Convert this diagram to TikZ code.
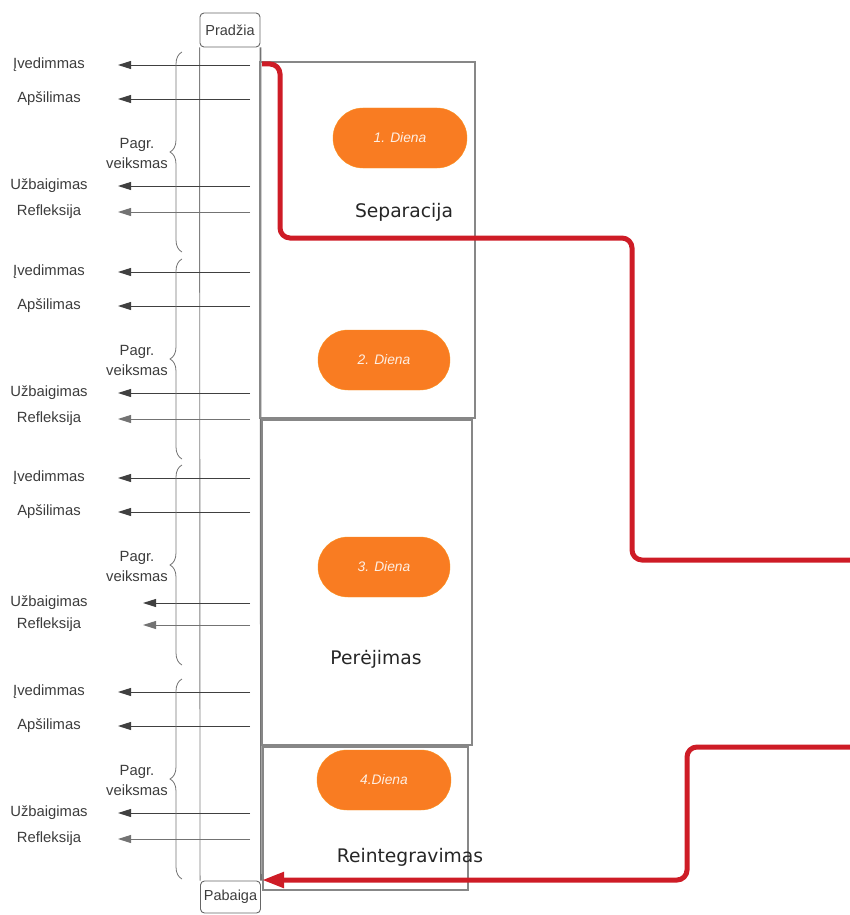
\documentclass[tikz,border=0pt]{standalone}
\usepackage{fontspec}
\setmainfont{Liberation Sans}
\newfontfamily\phasefont{DejaVu Sans}
\usetikzlibrary{decorations.pathreplacing,arrows.meta}
\definecolor{pillorange}{RGB}{249,124,34}
\definecolor{redline}{RGB}{206,28,38}
\definecolor{txt}{RGB}{60,60,60}
\definecolor{frame}{RGB}{135,135,135}
\begin{document}
\begin{tikzpicture}[x=1pt,y=-1pt,
  lbl/.style={font=\fontsize{14.8}{20}\selectfont, text=txt, inner sep=0pt},
  act/.style={draw=black!75, line width=0.9pt, -{Triangle[length=13pt,width=8pt]}},
  pill/.style={fill=pillorange, draw=pillorange!85!yellow, rounded corners=30pt, minimum width=134pt, minimum height=60pt, text=white!88!pillorange, font=\fontsize{13.8}{15}\selectfont\itshape},
  phase/.style={draw=frame, line width=1.2pt, minimum width=#1, inner sep=0pt},
  phasetxt/.style={font=\phasefont\fontsize{18.7}{22}\selectfont, text=black!85},
  brc/.style={draw=black!55, line width=0.8pt, decorate, decoration={brace, amplitude=12pt}},
  endbox/.style={draw=black!60, line width=0.9pt, rounded corners=4pt, minimum width=60pt, font=\fontsize{14.5}{16}\selectfont, text=txt, inner sep=0pt},
  redpath/.style={draw=redline, line width=5pt, rounded corners=10pt}
]
\useasboundingbox (0,0) rectangle (849,915);

% column head and foot
\node[endbox, minimum height=34pt] (pr) at (230,30) {Pradžia};
\node[endbox, minimum height=32pt] (pb) at (230.5,897) {Pabaiga};
\draw[draw=black!50, line width=0.9pt] (pr.south west) -- (pb.north west);
\draw[draw=black!55, line width=1.6pt] (pr.south east) -- (pb.north east);

% phase boxes
\node[phase=215pt, minimum height=356pt] (ph1) at (367.5,240) {};
\node[phase=210pt, minimum height=325pt] (ph2) at (367,582.5) {};
\node[phase=205pt, minimum height=143pt] (ph3) at (365.5,818.5) {};

% day pills
\node[pill] (d1) at (400,138) {1. Diena};
\node[pill, minimum width=132pt] (d2) at (384,360) {2. Diena};
\node[pill, minimum width=132pt] (d3) at (384,567) {3. Diena};
\node[pill] (d4) at (384,780) {4.Diena};

% phase labels
\node[phasetxt] (t1) at (404,212) {Separacija};
\node[phasetxt] (t2) at (376,659) {Perėjimas};
\node[phasetxt] (t3) at (410,857) {Reintegravimas};

% activity groups
\foreach \g/\dy/\tb/\du in {1/0/118/0, 2/207/118/0, 3/413/143/4, 4/627/118/0}{
  \node[lbl] (iv\g) at (49,65+\dy) {Įvedimmas};
  \node[lbl] (ap\g) at (49,99+\dy) {Apšilimas};
  \node[lbl, align=center] (pv\g) at (137,153+\dy) {Pagr.\\veiksmas};
  \node[lbl] (uz\g) at (49,186+\dy+\du) {Užbaigimas};
  \node[lbl] (rf\g) at (49,212+\dy) {Refleksija};
  \coordinate (ivs\g) at (250,65+\dy);   \coordinate (ive\g) at (118,65+\dy);
  \coordinate (aps\g) at (250,99+\dy);   \coordinate (ape\g) at (118,99+\dy);
  \coordinate (uzs\g) at (250,186+\dy+\du); \coordinate (uze\g) at (\tb,186+\dy+\du);
  \coordinate (rfs\g) at (250,212+\dy);  \coordinate (rfe\g) at (\tb,212+\dy);
  \draw[act] (ivs\g) -- (ive\g);
  \draw[act] (aps\g) -- (ape\g);
  \draw[act] (uzs\g) -- (uze\g);
  \draw[act, draw=black!55] (rfs\g) -- (rfe\g);
  \coordinate (bb\g) at (182,252+\dy);
  \coordinate (bt\g) at (182,52+\dy);
  \draw[brc] (bb\g) -- (bt\g);
}

% red route
\coordinate (rs) at (262,64);
\coordinate (rA) at (855,560);
\coordinate (rB) at (855,747);
\coordinate (re) at (262,880);
\draw[redpath] (rs) -- (280,64) -- (280,238) -- (632,238) -- (632,560) -- (rA);
\draw[redpath, -{Triangle[length=22pt,width=15pt]}] (rB) -- (687,747) -- (687,880) -- (re);
\end{tikzpicture}
\end{document}
